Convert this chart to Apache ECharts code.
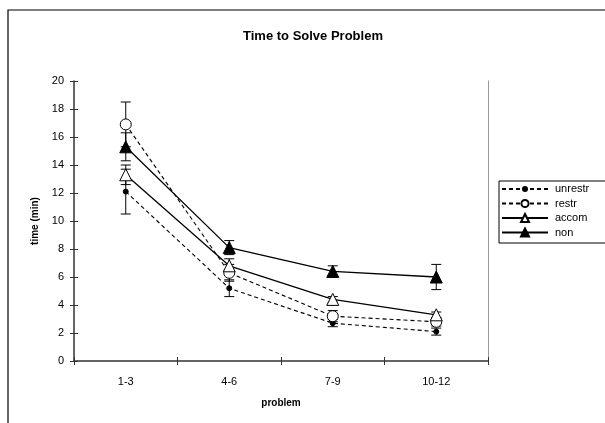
<!DOCTYPE html>
<html><head><meta charset="utf-8">
<script src="https://cdn.jsdelivr.net/npm/echarts@6/dist/echarts.min.js"></script>
<style>html,body{margin:0;padding:0;background:#fff}#c{width:605px;height:423px}</style>
</head><body><div id="c"></div>
<script>
const categories = ['1-3', '4-6', '7-9', '10-12'];
const seriesNames = ['unrestr', 'restr', 'accom', 'non'];
const unrestr = [12.1, 5.2, 2.7, 2.1];
const unrestrErr = [1.6, 0.6, 0.25, 0.25];
const restr = [16.9, 6.3, 3.2, 2.8];
const restrErr = [1.6, 0.6, 0.4, 0.3];
const accom = [13.3, 6.8, 4.4, 3.3];
const accomErr = [0.7, 0.5, 0.2, 0.2];
const non = [15.3, 8.1, 6.4, 6.0];
const nonErr = [1.0, 0.5, 0.4, 0.9];
const yTicks = [0, 2, 4, 6, 8, 10, 12, 14, 16, 18, 20];

const values = [unrestr, restr, accom, non];
const errs = [unrestrErr, restrErr, accomErr, nonErr];
const styles = [
  {symbol: 'circle', size: 5, fill: '#000', dash: [4, 3], width: 1.1, legendH: 5},
  {symbol: 'circle', size: 11, fill: '#fff', dash: [4, 3], width: 1.1, legendH: 9},
  {symbol: 'triangle', size: 12, fill: '#fff', dash: 'solid', width: 1.3, legendH: 10},
  {symbol: 'triangle', size: 12, fill: '#000', dash: 'solid', width: 1.3, legendH: 10}
];

const chart = echarts.init(document.getElementById('c'), null, {renderer: 'canvas'});
const FONT = 'Liberation Sans, Arial, sans-serif';

function errSeries(i) {
  return {
    type: 'custom', name: seriesNames[i] + '_err', z: 1, silent: true,
    data: values[i].map((v, k) => [k, v, errs[i][k]]),
    renderItem: function (params, api) {
      const x = api.value(0), v = api.value(1), e = api.value(2);
      const top = api.coord([x, v + e]);
      const bot = api.coord([x, v - e]);
      const w = 5;
      const st = {stroke: '#000', lineWidth: 1};
      return {type: 'group', children: [
        {type: 'line', shape: {x1: top[0], y1: top[1], x2: bot[0], y2: bot[1]}, style: st},
        {type: 'line', shape: {x1: top[0] - w, y1: top[1], x2: top[0] + w, y2: top[1]}, style: st},
        {type: 'line', shape: {x1: bot[0] - w, y1: bot[1], x2: bot[0] + w, y2: bot[1]}, style: st}
      ]};
    }
  };
}

const lineSeries = seriesNames.map((n, i) => ({
  type: 'line', name: n, data: values[i], z: 3,
  symbol: styles[i].symbol, symbolSize: styles[i].size,
  showAllSymbol: true,
  lineStyle: {color: '#000', width: styles[i].width, type: styles[i].dash},
  itemStyle: {color: styles[i].fill, borderColor: '#000', borderWidth: 1},
  emphasis: {disabled: true},
  animation: false
}));

const legends = seriesNames.map((n, i) => ({
  orient: 'vertical', left: 501, top: 189 + i * 14.5 - 7,
  data: [n], padding: 0,
  itemWidth: 46, itemHeight: styles[i].legendH, itemGap: 0,
  textStyle: {fontFamily: FONT, fontSize: 11, color: '#000', padding: [0, 0, 0, 2], height: 14, lineHeight: 14},
  selectedMode: false
}));

chart.setOption({
  animation: false,
  backgroundColor: '#fff',
  title: {
    text: 'Time to Solve Problem', left: 308, top: 25, textAlign: 'center',
    textStyle: {fontFamily: FONT, fontSize: 13, fontWeight: 'bold', color: '#000'}
  },
  grid: {left: 74, right: 117, top: 81, bottom: 62},
  legend: legends,
  xAxis: [{
    type: 'category', data: categories, boundaryGap: true,
    name: 'problem', nameLocation: 'middle', nameGap: 37,
    nameTextStyle: {fontFamily: FONT, fontSize: 10, fontWeight: 'bold', color: '#000'},
    axisLine: {lineStyle: {color: '#333', width: 1.5}},
    axisTick: {show: true, length: 4, inside: false, lineStyle: {color: '#333'}},
    axisLabel: {fontFamily: FONT, fontSize: 11, color: '#000', margin: 15},
    splitLine: {show: false}
  }, {
    type: 'category', data: categories, boundaryGap: true, position: 'bottom',
    axisLine: {show: false}, axisLabel: {show: false},
    axisTick: {show: true, length: 4, inside: true, lineStyle: {color: '#333'}}
  }],
  yAxis: [{
    type: 'value', min: 0, max: 20, interval: 2,
    name: 'time (min)', nameLocation: 'middle', nameGap: 34, nameRotate: 90,
    nameTextStyle: {fontFamily: FONT, fontSize: 10, fontWeight: 'bold', color: '#000'},
    axisLine: {show: true, lineStyle: {color: '#333', width: 1.5}},
    axisTick: {show: true, length: 4, inside: false, lineStyle: {color: '#333'}},
    axisLabel: {fontFamily: FONT, fontSize: 11, color: '#000', margin: 10,
      formatter: v => yTicks.includes(v) ? String(v) : ''},
    splitLine: {show: false}
  }, {
    type: 'value', min: 0, max: 20, interval: 2, position: 'left',
    axisLine: {show: false}, axisLabel: {show: false}, splitLine: {show: false},
    axisTick: {show: true, length: 4, inside: true, lineStyle: {color: '#333'}}
  }, {
    type: 'value', min: 0, max: 20, interval: 2, position: 'right',
    axisLine: {show: true, lineStyle: {color: '#999', width: 1}},
    axisLabel: {show: false}, axisTick: {show: false}, splitLine: {show: false}
  }],
  graphic: [{
    type: 'rect', silent: true, z: -1,
    shape: {x: 8, y: 10, width: 620, height: 440},
    style: {fill: 'none', stroke: '#000', lineWidth: 1.2}
  }, {
    type: 'rect', silent: true, z: -1,
    shape: {x: 499, y: 181, width: 120, height: 62},
    style: {fill: '#fff', stroke: '#000', lineWidth: 1}
  }],
  series: [0, 1, 2, 3].map(errSeries).concat(lineSeries)
});
</script></body></html>
